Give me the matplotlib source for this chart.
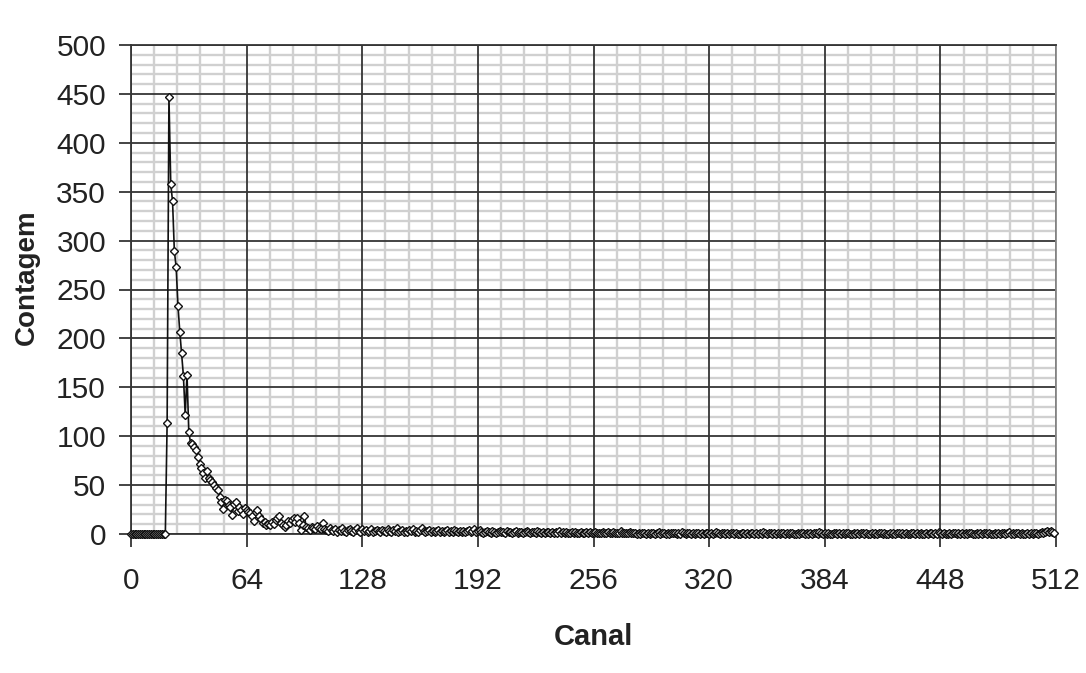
import numpy as np
import matplotlib
matplotlib.use("Agg")
import matplotlib.pyplot as plt
from matplotlib.ticker import MultipleLocator

plt.rcParams['font.family'] = ['Liberation Sans', 'DejaVu Sans']

# Spectrum counts per channel (channel 0 .. 511)
counts_head = [0, 0, 0, 0, 0, 0, 0, 0, 0, 0, 0, 0, 0, 0, 0, 0, 0, 0, 0, 0]
counts_peak = [
    114, 447, 358, 340, 289, 273, 233, 207, 185, 162, 122, 163, 104, 93, 92, 89,
    86, 79, 72, 67, 62, 57, 64, 57, 55, 53, 50, 47, 45, 38, 33, 26,
    35, 34, 30, 28, 19, 31, 33, 24, 28, 25, 20, 27, 25, 23, 21, 18,
    13, 22, 25, 18, 15, 11, 12, 9, 10, 9, 12, 10, 14, 16, 18, 11,
    9, 7, 9, 13, 11, 14, 16, 12, 16, 11, 4, 9, 18, 7, 6, 4,
    7, 6, 5, 8, 6, 5, 11, 5, 4, 3, 6, 4, 3, 5, 2, 4,
    3, 6, 3, 2, 4,
]
counts_mid = [
    5, 3, 2, 4, 6, 3, 2, 5, 3, 4, 2, 3, 5, 2, 3, 4,
    3, 2, 4, 3, 2, 5, 3, 2, 4, 3, 6, 2, 3, 4, 2, 3,
    2, 4, 3, 5, 2, 3, 2, 4, 6, 3, 2, 3, 4, 2, 3, 2,
    3, 4, 2, 3, 2, 3, 4, 2, 3, 2, 4, 3, 2, 3, 2, 3,
    2, 3, 4, 2, 3, 5, 2, 3, 4, 2, 1, 2, 3, 2, 1, 3,
    2, 1, 2, 3, 2, 2, 1, 3, 2, 2, 1, 2, 3, 1, 2, 2,
    1, 2, 3, 2, 1, 2, 2, 1, 3, 2, 1, 2, 1, 2, 2, 1,
    2, 1, 2, 1, 3, 1, 2, 1, 2, 1, 1, 2, 1, 2, 1, 1,
    2, 1, 1, 2, 1, 2, 1, 1, 2, 1, 1, 1, 2, 1, 1, 2,
    1, 1, 2, 1, 1, 1, 3, 1, 1, 1, 1, 2, 1, 1, 1, 0,
]
counts_tail = [
    1, 0, 1, 1, 0, 1, 0, 1, 1, 0, 1, 2, 0, 1, 1, 0,
    1, 0, 1, 1, 1, 0, 1, 0, 2, 1, 0, 1, 1, 0, 1, 0,
    1, 1, 0, 1, 0, 1, 1, 0, 1, 0, 1, 2, 1, 0, 1, 1,
    0, 1, 0, 1, 1, 0, 1, 0, 0, 1, 1, 0, 1, 0, 1, 1,
    0, 1, 0, 1, 0, 2, 1, 0, 1, 1, 0, 1, 0, 1, 0, 1,
    1, 0, 1, 0, 1, 1, 0, 0, 1, 0, 1, 1, 0, 1, 0, 1,
    0, 1, 1, 0, 2, 1, 0, 1, 0, 1, 0, 0, 1, 1, 0, 1,
    0, 1, 0, 1, 1, 0, 0, 1, 0, 1, 0, 1, 1, 0, 1, 0,
    0, 1, 0, 1, 0, 1, 1, 0, 1, 0, 0, 1, 0, 1, 0, 1,
    1, 0, 1, 0, 1, 0, 0, 1, 1, 0, 1, 0, 1, 0, 0, 1,
    0, 1, 1, 0, 1, 0, 2, 1, 0, 1, 0, 0, 1, 0, 1, 1,
    0, 1, 0, 1, 0, 1, 0, 1, 1, 0, 0, 1, 0, 1, 0, 1,
    1, 0, 1, 0, 0, 1, 0, 1, 0, 1, 1, 0, 1, 2, 0, 1,
    0, 1, 1, 0, 1, 0, 0, 1, 0, 1, 0, 1, 1, 0, 1, 2,
    1, 2, 3, 2, 3, 2, 1,
]
counts = np.array(counts_head + counts_peak + counts_mid + counts_tail)
channels = np.arange(len(counts))

x_ticks = [0, 64, 128, 192, 256, 320, 384, 448, 512]
y_ticks = [0, 50, 100, 150, 200, 250, 300, 350, 400, 450, 500]

fig = plt.figure(figsize=(10.86, 6.73), dpi=100)
ax = fig.add_axes([131 / 1086, 1 - 534 / 673, (1056 - 131) / 1086, (534 - 45) / 673])

ax.set_xlim(0, 512)
ax.set_ylim(0, 500)
ax.set_xticks(x_ticks)
ax.set_yticks(y_ticks)
ax.xaxis.set_minor_locator(MultipleLocator(12.8))
ax.yaxis.set_minor_locator(MultipleLocator(10))

# light minor grid underneath, dark major grid drawn on top of it
ax.grid(which='minor', color='#d0d0d0', linewidth=1.7)
ax.grid(which='major', visible=False)
ax.set_axisbelow(True)
for xv in x_ticks:
    ax.axvline(xv, color='#353535', linewidth=1.3, zorder=1.5)
for yv in y_ticks:
    ax.axhline(yv, color='#353535', linewidth=1.3, zorder=1.5)

for side, sp in ax.spines.items():
    sp.set_color('#353535')
    sp.set_linewidth(1.3)
ax.spines['right'].set_color('#8a8a8a')

ax.tick_params(which='major', direction='out', length=9, width=1.3, color='#353535',
               labelsize=21.5, labelcolor='#222222')
ax.tick_params(axis='x', which='major', pad=15)
ax.tick_params(axis='y', which='major', pad=9)
ax.tick_params(which='minor', length=0)

ax.plot(channels, counts, color='#111111', linewidth=1.2, marker='D', markersize=4.3,
        markerfacecolor='white', markeredgecolor='#111111', markeredgewidth=1.0,
        zorder=3, clip_on=False)

ax.set_xlabel('Canal', fontsize=21, fontweight='bold', color='#222222', labelpad=20)
ax.set_ylabel('Contagem', fontsize=20, fontweight='bold', color='#222222')
ax.yaxis.set_label_coords(-0.098, 0.526)

fig.savefig('out.png', dpi=100, facecolor='white')
